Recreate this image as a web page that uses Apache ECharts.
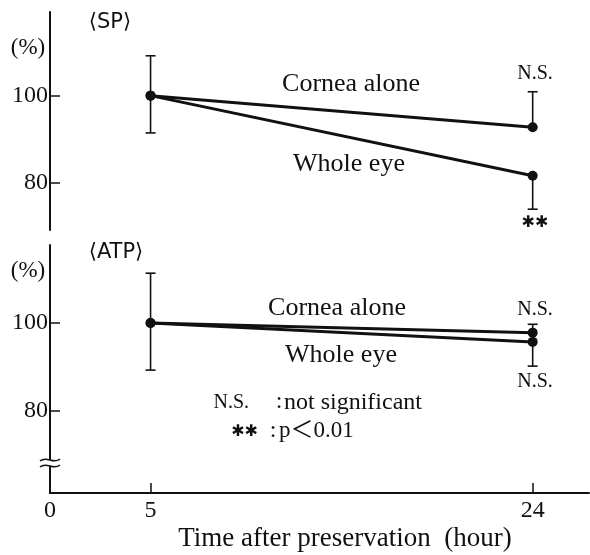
<!DOCTYPE html>
<html>
<head>
<meta charset="utf-8">
<script src="https://cdn.jsdelivr.net/npm/echarts@6/dist/echarts.min.js"></script>
<style>
  html, body { margin: 0; padding: 0; background: #fff; }
  #main { width: 590px; height: 555px; }
</style>
</head>
<body>
<div id="main"></div>
<script>
const hours = [5, 24]
const spCornea = [100, 92.7]
const spWhole = [100, 81.5]
const atpCornea = [100, 97.8]
const atpWhole = [100, 95.7]
// error bars: [hour, mean, low, high]
const spErr = [[5, 100, 91.4, 109.2], [24, 92.7, 92.7, 100.9], [24, 81.5, 73.8, 81.5]]
const atpErr = [[5, 100, 89.3, 111.3], [24, 97.8, 97.8, 99.7], [24, 95.7, 90.2, 95.7]]
const xTicks = [0, 5, 24]
const xTickMarks = [5, 24]
const yTicks = [80, 100]

const ink = '#111'
const serif = '"Liberation Serif", "Noto Sans CJK JP", serif'
const sans = '"DejaVu Sans", "Liberation Sans", sans-serif'

const pairs = vals => hours.map((h, i) => [h, vals[i]])

const errBar = (params, api) => {
  const x = api.value(0), m = api.value(1), lo = api.value(2), hi = api.value(3)
  const pLo = api.coord([x, lo])
  const pHi = api.coord([x, hi])
  const st = { stroke: ink, lineWidth: 1.6 }
  const children = [{ type: 'line', shape: { x1: pLo[0], y1: pLo[1], x2: pHi[0], y2: pHi[1] }, style: st }]
  if (lo < m) children.push({ type: 'line', shape: { x1: pLo[0] - 5, y1: pLo[1], x2: pLo[0] + 5, y2: pLo[1] }, style: st })
  if (hi > m) children.push({ type: 'line', shape: { x1: pHi[0] - 5, y1: pHi[1], x2: pHi[0] + 5, y2: pHi[1] }, style: st })
  return { type: 'group', children }
}

const lineSeries = (data, idx) => ({
  type: 'line',
  xAxisIndex: idx,
  yAxisIndex: idx,
  data: data,
  symbol: 'circle',
  symbolSize: 10,
  itemStyle: { color: ink },
  lineStyle: { color: ink, width: 3 },
  z: 3
})

const yAxisOf = (idx, min, max) => ({
  gridIndex: idx,
  type: 'value',
  min: min,
  max: max,
  axisLine: { show: true, onZero: false, lineStyle: { color: ink, width: 2 } },
  axisTick: { show: true, inside: true, length: 10, customValues: yTicks, lineStyle: { color: ink, width: 1.5 } },
  axisLabel: { customValues: yTicks, color: ink, fontFamily: serif, fontSize: 24, margin: 2 },
  splitLine: { show: false }
})

const txt = (text, x, y, size, extra) => ({
  type: 'text',
  x: x,
  y: y,
  style: Object.assign({ text: text, fill: ink, font: size + 'px ' + serif, align: 'center', verticalAlign: 'middle' }, extra || {})
})

const chart = echarts.init(document.getElementById('main'))
const option = {
  animation: false,
  backgroundColor: '#fff',
  grid: [
    { left: 50, top: 12, width: 539, height: 218 },
    { left: 50, top: 245, width: 539, height: 248 }
  ],
  xAxis: [
    { gridIndex: 0, type: 'value', min: 0, max: 26.8, show: false },
    {
      gridIndex: 1,
      type: 'value',
      min: 0,
      max: 26.8,
      axisLine: { show: true, onZero: false, lineStyle: { color: ink, width: 2 } },
      axisTick: { show: true, inside: true, length: 10, customValues: xTickMarks, lineStyle: { color: ink, width: 1.5 } },
      axisLabel: { customValues: xTicks, color: ink, fontFamily: serif, fontSize: 24, margin: 6 },
      splitLine: { show: false }
    }
  ],
  yAxis: [yAxisOf(0, 69, 119.3), yAxisOf(1, 61.4, 117.7)],
  series: [
    { type: 'custom', xAxisIndex: 0, yAxisIndex: 0, renderItem: errBar, data: spErr, z: 2 },
    { type: 'custom', xAxisIndex: 1, yAxisIndex: 1, renderItem: errBar, data: atpErr, z: 2 },
    lineSeries(pairs(spCornea), 0),
    lineSeries(pairs(spWhole), 0),
    lineSeries(pairs(atpCornea), 1),
    lineSeries(pairs(atpWhole), 1)
  ],
  graphic: [
    // axis break on the lower y axis
    { type: 'rect', shape: { x: 46, y: 460, width: 10, height: 6 }, style: { fill: '#fff' }, z: 100 },
    { type: 'bezierCurve', shape: { x1: 40, y1: 461, cpx1: 47, cpy1: 455, cpx2: 53, cpy2: 465, x2: 60, y2: 459 }, style: { stroke: ink, lineWidth: 1.5, fill: null }, z: 101 },
    { type: 'bezierCurve', shape: { x1: 40, y1: 467, cpx1: 47, cpy1: 461, cpx2: 53, cpy2: 471, x2: 60, y2: 465 }, style: { stroke: ink, lineWidth: 1.5, fill: null }, z: 101 },
    // panel titles and units
    txt('⟨SP⟩', 110, 23, 21, { font: '21px ' + sans }),
    txt('⟨ATP⟩', 116, 253, 21, { font: '21px ' + sans }),
    txt('(%)', 28, 48, 23),
    txt('(%)', 28, 271, 23),
    // series labels
    txt('Cornea alone', 351, 84, 26),
    txt('Whole eye', 349, 164, 26),
    txt('Cornea alone', 337, 308, 26),
    txt('Whole eye', 341, 355, 26),
    // significance marks
    txt('N.S.', 535, 74, 20),
    txt('✱✱', 535, 223, 16, { font: '16px ' + sans }),
    txt('N.S.', 535, 310, 20),
    txt('N.S.', 535, 382, 20),
    // key
    txt('N.S.', 249, 403, 20, { align: 'right' }),
    txt(':', 279, 402, 24),
    txt('not significant', 284, 403, 24, { align: 'left' }),
    txt('✱✱', 258, 432, 16, { align: 'right', font: '16px ' + sans }),
    txt(':', 273, 431, 24),
    txt('p＜0.01', 279, 431, 23, { align: 'left' }),
    // x axis title
    txt('Time after preservation\u2002(hour)', 345, 539, 27)
  ]
}
chart.setOption(option)
</script>
</body>
</html>
